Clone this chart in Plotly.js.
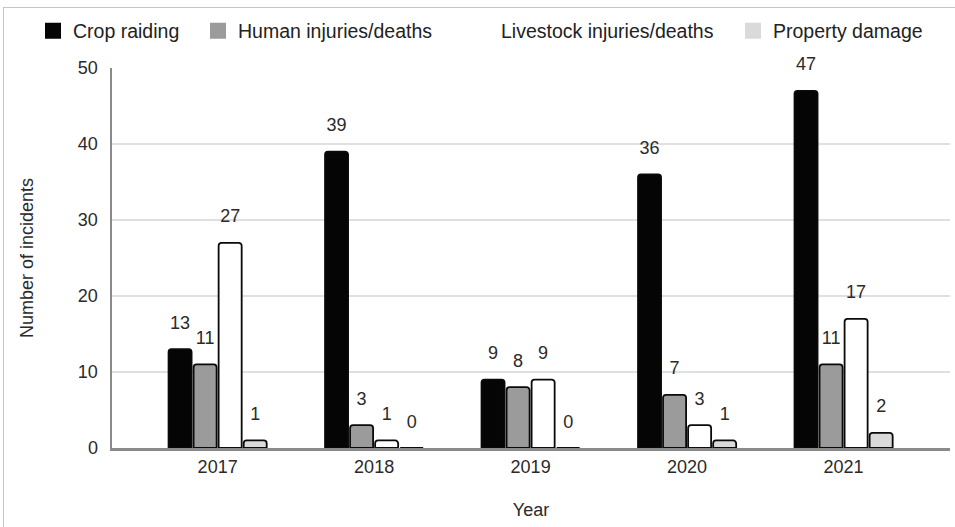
<!DOCTYPE html>
<html>
<head>
<meta charset="utf-8">
<script src="https://cdn.plot.ly/plotly-3.0.1.min.js"></script>
<style>
  html, body { margin: 0; padding: 0; background: #fff; }
  #wrap { position: relative; width: 955px; height: 527px; }
  #chart { position: absolute; left: 0; top: 0; width: 955px; height: 527px; }
  #frame { position: absolute; left: 3px; top: 7px; right: -2px; bottom: -2px;
           border-left: 1.5px solid #c4c4c4; border-top: 1.5px solid #c4c4c4; pointer-events: none; }
</style>
</head>
<body>
<div id="wrap">
  <div id="chart"></div>
  <div id="frame"></div>
</div>
<script>
const years = ['2017', '2018', '2019', '2020', '2021'];
const seriesNames = ['Crop raiding', 'Human injuries/deaths', 'Livestock injuries/deaths', 'Property damage'];
const cropRaiding = [13, 39, 9, 36, 47];
const humanInjuries = [11, 3, 8, 7, 11];
const livestockInjuries = [27, 1, 9, 3, 17];
const propertyDamage = [1, 0, 0, 1, 2];
const yTicks = [0, 10, 20, 30, 40, 50];

const seriesValues = [cropRaiding, humanInjuries, livestockInjuries, propertyDamage];
const fills = ['#050505', '#9b9b9b', '#ffffff', '#dadada'];
const FONT = 'Liberation Sans, Arial, sans-serif';
const legendIds = ['legend', 'legend2', 'legend3', 'legend4'];
const legendLeft = [33, 198, 461, 733];

const traces = [];
// bars
seriesValues.forEach((vals, i) => {
  traces.push({
    type: 'bar', x: years, y: vals, name: seriesNames[i], showlegend: false,
    marker: { color: fills[i], line: { color: '#0a0a0a', width: 1.8 }, cornerradius: 3 },
    hoverinfo: 'x+y+name'
  });
});
// value labels (grouped scatter aligned with bars)
seriesValues.forEach((vals, i) => {
  traces.push({
    type: 'scatter', mode: 'markers+text', x: years, y: vals, showlegend: false,
    text: vals.map(String), textposition: 'top center', cliponaxis: false,
    textfont: { family: FONT, size: 18, color: '#2a2a2a' },
    marker: { size: 24, color: 'rgba(0,0,0,0)' }, hoverinfo: 'skip'
  });
});
// legend entries (flat squares, no outline), one legend per entry
seriesValues.forEach((vals, i) => {
  traces.push({
    type: 'scatter', mode: 'markers', x: [null], y: [null], name: seriesNames[i],
    xaxis: 'x2', yaxis: 'y2', legend: legendIds[i],
    marker: { symbol: 'square', size: 16, color: fills[i], line: { width: 0 } }
  });
});

const layout = {
  width: 955, height: 527,
  margin: { l: 112, r: 5, t: 68, b: 79 },
  paper_bgcolor: 'rgba(0,0,0,0)', plot_bgcolor: 'rgba(0,0,0,0)',
  font: { family: FONT, size: 18, color: '#333' },
  barmode: 'group', bargap: 0.36, bargroupgap: 0.08,
  scattermode: 'group', scattergap: 0.36,
  showlegend: true,
  xaxis: {
    type: 'category', range: [-0.675, 4.68],
    showline: true, linecolor: '#8a8a8a', linewidth: 2.5,
    showgrid: false, ticks: '', ticklabelstandoff: 1,
    tickfont: { family: FONT, size: 18, color: '#2a2a2a' },
    title: { text: 'Year', font: { family: FONT, size: 18, color: '#2a2a2a' }, standoff: 28 }
  },
  yaxis: {
    range: [0, 50], tickvals: yTicks, ticktext: yTicks.map(String),
    showline: true, linecolor: '#8a8a8a', linewidth: 2.5,
    showgrid: true, gridcolor: '#e0e0e0', gridwidth: 1.5, zeroline: false,
    ticks: '', ticklabelstandoff: 8,
    tickfont: { family: FONT, size: 18, color: '#2a2a2a' },
    title: { text: 'Number of incidents', font: { family: FONT, size: 18, color: '#2a2a2a' }, standoff: 40 }
  },
  xaxis2: { overlaying: 'x', visible: false, range: [0, 1] },
  yaxis2: { overlaying: 'y', visible: false, range: [0, 1] }
};
legendIds.forEach((id, i) => {
  layout[id] = {
    orientation: 'h', xref: 'container', yref: 'container',
    x: legendLeft[i] / 955, xanchor: 'left', y: 1 - 31 / 527, yanchor: 'middle',
    font: { family: FONT, size: 19.5, color: '#222' },
    bgcolor: 'rgba(0,0,0,0)'
  };
});

Plotly.newPlot('chart', traces, layout, { displayModeBar: false, staticPlot: true });
</script>
</body>
</html>
